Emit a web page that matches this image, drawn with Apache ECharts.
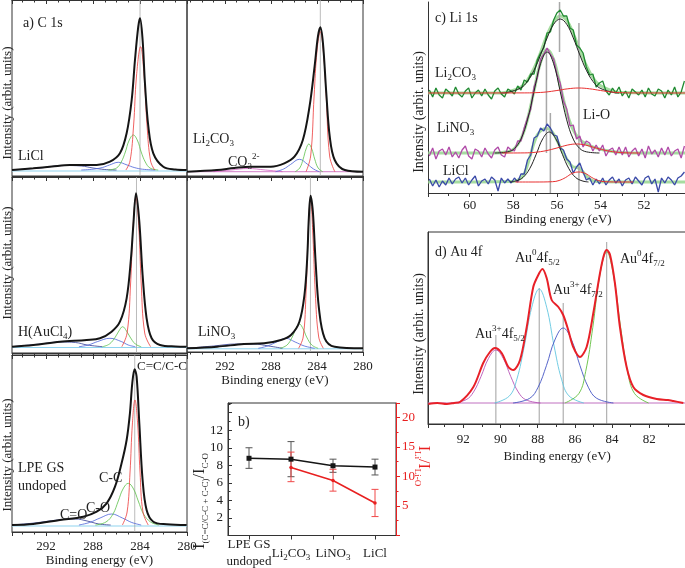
<!DOCTYPE html>
<html><head><meta charset="utf-8">
<script src="https://cdn.jsdelivr.net/npm/echarts@6/dist/echarts.min.js"></script>
<style>html,body{margin:0;padding:0;background:#fff}#c{width:685px;height:568px}</style>
</head><body><div id="c"></div>
<script>
// ---------- Panel a: C 1s spectra (binding energy eV, intensity arb.) ----------
const p1Env=[[294.9,6],[293.09,7.7],[291.5,9.5],[289.97,11],[288.8,11],[287.69,11],[286.56,14.3],[285.71,22.7],[285.14,42.7],[284.71,76],[284.43,116],[284.15,149.3],[284.0,157.7],[283.78,136],[283.58,92.7],[283.29,49.3],[282.87,22.7],[282.02,9.3],[281,6.5],[280.03,6]];
const p1Red=[[285.2,6],[284.85,15],[284.55,50],[284.3,100],[283.95,129.3],[283.65,100],[283.4,50],[283.1,15],[282.75,6]];
const p1Green=[[286.7,6],[286.0,8],[285.6,14],[285.25,24],[284.95,35],[284.57,41],[284.2,35],[283.9,24],[283.55,14],[283.15,8],[282.45,6]];
const p1Blue=[[289,6],[288,6.8],[287.2,8.5],[286.6,11],[285.85,13.7],[285.1,11],[284.5,8.5],[283.8,6.8],[282.7,6]];
const p1Navy=[[294.9,6],[292.5,8],[290.5,10.5],[289,10],[288,8],[287,6.5],[286,6]];
const p1Base=[[294.9,5],[280,5]];

const p2Env=[[295.3,4.3],[292.69,6],[291.2,8],[289.77,9.3],[288.01,9.3],[286.84,12.7],[285.96,19.3],[285.23,36],[284.65,69.3],[284.21,109.3],[283.92,139.3],[283.71,148.7],[283.48,132.7],[283.19,82.7],[282.89,39.3],[282.46,16],[281.58,6],[280,4.3]];
const p2Red=[[284.95,4.3],[284.55,20],[284.25,80],[284.0,125],[283.71,144.3],[283.45,125],[283.2,80],[282.9,20],[282.45,4.3]];
const p2Green=[[285.9,4.3],[285.5,8],[285.2,17],[284.95,27],[284.71,32],[284.45,27],[284.2,17],[283.9,8],[283.5,4.3]];
const p2Blue=[[287.6,4.3],[286.9,7],[286.3,11.5],[285.53,16.7],[284.8,11.5],[284.3,7],[283.8,4.3]];
const p2Navy=[[293,4.3],[291.5,6],[290,7.5],[288.5,6],[287,4.3]];
const p2Base=[[295.3,4.3],[280,4.3]];

const p3Env=[[294.9,6.3],[293.09,8],[290.82,11.3],[288.55,13],[287.41,14.7],[286.42,21.3],[285.71,31.3],[285.14,54.7],[284.77,94.7],[284.57,128],[284.34,159.7],[284.06,131.3],[283.78,78],[283.44,34.7],[283.01,14.7],[282.3,8],[281,6.5],[280.03,6.3]];
const p3Red=[[285.55,6.3],[285.1,20],[284.8,70],[284.6,125],[284.34,156.3],[284.1,125],[283.9,70],[283.6,20],[283.1,6.3]];
const p3Green=[[287.2,6.3],[286.6,9],[286.1,16],[285.8,22],[285.48,26.3],[285.15,22],[284.85,16],[284.4,9],[283.9,6.3]];
const p3Blue=[[289.2,6.3],[288.4,8],[287.6,11.5],[286.56,14.7],[285.6,11.5],[285,8],[284.4,6.3]];
const p3Navy=[[294.9,6.3],[292.5,9],[290.8,11],[289.5,10.5],[288.5,8],[287.2,6.3]];
const p3Base=[[294.9,5.5],[280,5.5]];

const p4Env=[[295.3,3.7],[292.69,5.3],[290.35,8],[288.6,8.7],[287.13,12],[286.26,17],[285.53,30.3],[285.09,57],[284.85,93.7],[284.71,133.7],[284.56,156.3],[284.36,140.3],[284.12,90.3],[283.83,43.7],[283.33,13.7],[282.46,5.3],[280,3.7]];
const p4Red=[[285.6,3.7],[285.2,15],[284.95,60],[284.78,115],[284.56,153.7],[284.35,115],[284.15,60],[283.85,15],[283.45,3.7]];
const p4Green=[[287.2,3.7],[286.6,7],[286.15,15],[285.85,23],[285.53,28],[285.2,23],[284.9,15],[284.45,7],[283.9,3.7]];
const p4Blue=[[289.1,3.7],[288.3,6],[287.5,10],[286.7,13.7],[285.9,10],[285.1,6],[284.2,3.7]];
const p4Navy=[[295.3,3.7],[293,6],[291,8],[289.5,8],[288.2,6],[287,3.7]];
const p4Base=[[295.3,3.2],[280,3.2]];

const p5Env=[[294.9,7],[293.09,8],[290.82,12],[288.83,15.3],[287.69,20.3],[286.84,28.7],[286.13,45.3],[285.57,68.7],[285.14,92],[284.86,118.7],[284.66,148.7],[284.46,162.7],[284.29,155.3],[284.06,108.7],[283.78,52],[283.44,22],[282.87,10.3],[281.73,7.7],[280.03,7]];
const p5Red=[[285.5,7],[285.1,20],[284.85,60],[284.65,108],[284.43,132],[284.2,108],[284.0,60],[283.75,20],[283.3,7]];
const p5Green=[[287.8,7],[286.9,10],[286.3,18],[285.85,31],[285.45,43],[285.0,48.7],[284.55,43],[284.15,31],[283.7,18],[283.1,10],[282.4,7]];
const p5Blue=[[289.2,7],[288.3,9.5],[287.4,14],[286.42,18],[285.5,14],[284.7,9.5],[283.9,7]];
const p5Navy=[[294.9,7],[293,9],[291,12],[289.5,13],[288.5,11],[287.5,8],[286.5,7]];
const p5Base=[[294.9,6],[280,6]];

const aPeakLines=[284.0,283.71,284.3,284.57,284.45];
const aHeights=[176,176,176,175,177];
const aMax=[294.9,295.3,294.9,295.3,294.9];

// ---------- Panel b ----------
const bCats=['LPE GS\nundoped','Li2CO3','LiNO3','LiCl'];
const bBlack=[8.8,8.7,7.95,7.8];
const bBlackLo=[7.65,6.7,7.2,6.9];
const bBlackHi=[10.0,10.7,8.7,8.7];
const bRed=[null,11.5,9.3,5.5];
const bRedLo=[null,9.1,7.5,3.2];
const bRedHi=[null,14.1,11.2,7.8];

// ---------- Panel c: Li 1s ----------
const liE=[61.85,61.70,61.55,61.40,61.25,61.10,60.95,60.80,60.65,60.50,
60.35,60.20,60.05,59.90,59.75,59.60,59.45,59.30,59.15,59.00,
58.85,58.70,58.55,58.40,58.25,58.10,57.95,57.80,57.65,57.50,
57.35,57.20,57.05,56.90,56.75,56.60,56.45,56.30,56.15,56.00,
55.85,55.70,55.55,55.40,55.25,55.10,54.95,54.80,54.65,54.50,
54.35,54.20,54.05,53.90,53.75,53.60,53.45,53.30,53.15,53.00,
52.85,52.70,52.55,52.40,52.25,52.10,51.95,51.80,51.65,51.50,
51.35,51.20,51.05,50.90,50.75,50.60,50.45,50.30,50.15];
const liCO3Data=[103,96,105,98,95,104,101,97,106,99,96,102,105,95,100,103,97,104,98,94,102,105,99,96,104,102,99,107,103,113,111,119,119,133,140,145,160,161,173,180,183,177,177,165,163,148,145,140,126,118,119,106,110,112,102,98,105,100,106,97,102,95,104,101,98,103,96,105,99,97,104,102,95,103,98,106,96,101,112];
const liNO3Data=[37,45,34,42,44,38,46,36,41,35,43,47,37,34,44,42,36,45,39,35,43,46,38,36,46,43,42,52,52,65,75,84,106,115,134,139,145,139,134,119,110,92,84,67,68,54,57,46,52,50,42,48,42,48,37,43,45,38,46,38,46,36,42,45,37,44,35,47,39,43,36,45,38,46,37,42,44,35,47];
const liClData=[14,7,13,6,12,8,15,9,14,16,10,15,8,13,17,7,12,14,9,16,13,2,15,10,14,10,15,11,19,19,33,38,55,57,65,62,69,65,58,57,45,43,34,31,20,26,30,21,13,15,8,14,9,15,8,13,16,10,14,7,13,15,9,16,12,8,15,17,9,14,1,15,10,16,13,8,15,17,21];
const liCO3Fit=[[58.55,100],[58.25,100.7],[57.65,105.2],[57.35,111.7],[57.05,122.8],[56.75,138.1],[56.45,155.1],[56.15,168.7],[55.85,174],[55.55,168.7],[55.25,155.1],[54.95,138.1],[54.65,122.8],[54.35,111.7],[54.05,105.2],[53.45,100.7],[53.15,100]];
const liCO3LiO=[[61.9,100],[57.5,100.1],[57,100.3],[56.5,101],[56,102.5],[55.5,104.2],[55,105],[54.5,104.2],[54,102.5],[53.5,101],[53,100.3],[52.5,100.1],[50.1,100]];
const liCO3Sum=[[61.9,100],[58.55,100.1],[58.25,101],[57.65,106],[57.35,113],[57.05,124.5],[56.75,140.5],[56.45,158],[56.15,171],[55.85,177],[55.55,172.5],[55.25,159.5],[54.95,143],[54.65,127.5],[54.35,115.5],[54.05,108],[53.45,102],[53.15,100.5],[50.1,100]];
const liNO3Fit=[[58.85,40],[58.25,41.2],[57.95,44.5],[57.65,53.9],[57.35,73.1],[57.05,101.6],[56.75,129.3],[56.45,141],[56.15,129.3],[55.85,101.6],[55.55,73.1],[55.25,53.9],[54.95,44.5],[54.65,41.2],[54.05,40]];
const liNO3LiO=[[58.5,40],[57.5,40.1],[57,40.7],[56.5,42.3],[56,45.0],[55.5,48.0],[55.1,49],[54.7,48.0],[54.2,45.0],[53.7,42.3],[53.2,40.7],[52.7,40.1],[52.2,40]];
const liNO3Sum=[[61.9,40],[58.85,40],[58.25,41.2],[57.95,44.5],[57.65,54],[57.35,73.4],[57.05,102.3],[56.75,130.7],[56.45,143.5],[56.15,133.4],[55.85,107.7],[55.55,80.9],[55.25,62.8],[54.95,53.4],[54.65,49],[54.35,46.1],[54.05,44.1],[53.75,42.5],[53.45,41.4],[53.15,40.7],[52.55,40.1],[50.1,40]];
const liClFit=[[58.15,11],[57.85,12.2],[57.55,15.7],[57.25,24.3],[56.95,38.7],[56.65,54.2],[56.35,61],[56.05,54.2],[55.75,38.7],[55.45,24.3],[55.15,15.7],[54.85,12.2],[54.55,11]];
const liClLiO=[[57.9,11],[57,11],[56.2,11.3],[55.9,12.5],[55.6,15.5],[55.3,19.6],[55.0,21],[54.7,19.6],[54.4,15.5],[54.1,12.5],[53.8,11.3],[53,11],[52.5,11]];
const liClSum=[[61.9,11],[58.0,11.5],[57.65,15],[57.5,19],[57.35,28],[57.2,39],[57.05,50],[56.9,58],[56.75,62],[56.6,64],[56.45,64.5],[56.3,63],[56.15,59],[56.0,53],[55.85,46],[55.7,40],[55.55,34],[55.4,29],[55.25,26],[55.1,25.5],[54.95,24.5],[54.8,21],[54.65,17],[54.5,14],[54.35,12.3],[54.0,11.2],[50.1,11]];
const liLines=[[55.88,141,191],[56.48,40,143],[56.3,0,80],[54.99,0,170]];

// ---------- Panel d: Au 4f ----------
const auEnv=[[93.88,20],[93.4,21],[92.89,20],[92.5,21],[92.18,22],[91.46,37],[90.93,61],[90.57,72],[90.30,76],[89.94,71],[89.58,57],[89.31,54],[88.95,64],[88.59,97],[88.24,137],[87.97,149],[87.75,155],[87.52,146],[87.25,124],[86.89,117],[86.63,109],[86.36,94],[86.09,77],[85.73,67],[85.37,77],[85.01,111],[84.65,151],[84.44,169],[84.29,174],[84.11,169],[83.85,141],[83.58,97],[83.22,57],[82.86,37],[82.32,29],[81.60,25],[81.0,24],[80.71,23],[80.17,21]];
const au3p52=[[92.65,21],[91.85,24.3],[91.45,32.1],[91.05,47.5],[90.65,65.5],[90.25,74],[89.85,65.5],[89.45,47.5],[89.05,32.1],[88.65,24.3],[87.85,21]];
const au0_52=[[90.32,21],[89.52,28.1],[89.12,44.9],[88.72,78],[88.32,116.8],[87.92,135],[87.52,116.8],[87.12,78],[86.72,44.9],[86.32,28.1],[85.52,21]];
const au3p72=[[89.33,21],[88.43,25.7],[87.98,36.8],[87.53,58.5],[87.08,84],[86.63,96],[86.18,84],[85.73,58.5],[85.28,36.8],[84.83,25.7],[83.93,21]];
const au0_72=[[86.54,21],[85.79,30.4],[85.42,52.7],[85.04,96.5],[84.67,147.8],[84.29,172],[83.92,147.8],[83.54,96.5],[83.17,52.7],[82.79,30.4],[82.04,21]];
const auBase=[[93.9,21],[80.0,21]];
const auLines=[[90.25,89],[87.92,136],[86.63,121],[84.29,182]];

// ---------------------------------------------------------------
const F='Liberation Serif';
const chart=echarts.init(document.getElementById('c'),null,{renderer:'canvas'});

const gridsPos=[
 {left:12,top:0,width:175,height:176},
 {left:187,top:0,width:176,height:176},
 {left:12,top:177,width:175,height:176},
 {left:187,top:177,width:176,height:175},
 {left:12,top:355,width:175,height:177},
 {left:228,top:403,width:168,height:132.5},
 {left:428.3,top:2,width:259.4,height:191},
 {left:428,top:232,width:258.5,height:192}
];
const grid=gridsPos.map((g,i)=>Object.assign({containLabel:false,outerBoundsMode:'none',show:i!==6,borderColor:'#333',borderWidth:1,backgroundColor:'transparent'},g));

const tickStyle={color:'#333',width:1};
const xAxis=[];
for(let i=0;i<5;i++){
  const lab=(i===3||i===4);
  xAxis.push({type:'value',gridIndex:i,position:'bottom',inverse:true,min:280,max:aMax[i],interval:4,
    axisLine:{show:true,onZero:false,lineStyle:tickStyle},axisTick:{show:true,inside:false,length:4,lineStyle:tickStyle},
    minorTick:{show:true,splitNumber:4,length:2.5,lineStyle:tickStyle},splitLine:{show:false},
    axisLabel:{show:lab,fontFamily:F,fontSize:13,color:'#222',margin:8,showMaxLabel:false,showMinLabel:true},
    name:lab?'Binding energy (eV)':'',nameLocation:'middle',nameGap:(i===3?25:27),
    nameTextStyle:{fontFamily:F,fontSize:13,color:'#222',verticalAlign:'middle'}});
}
for(let i=0;i<5;i++){
  xAxis.push({type:'value',gridIndex:i,position:'top',inverse:true,min:280,max:aMax[i],interval:4,
    axisLine:{show:true,onZero:false,lineStyle:tickStyle},axisTick:{show:true,inside:true,length:4,lineStyle:tickStyle},
    minorTick:{show:true,splitNumber:4,length:2.5,lineStyle:tickStyle},splitLine:{show:false},axisLabel:{show:false}});
}
const richB={n:{fontFamily:F,fontSize:13,color:'#222',lineHeight:17,verticalAlign:'middle'},s:{fontFamily:F,fontSize:9,color:'#222',verticalAlign:'bottom'}};
xAxis.push({type:'category',gridIndex:5,data:bCats,boundaryGap:true,
  axisLine:{show:true,lineStyle:tickStyle},axisTick:{show:true,alignWithLabel:true,length:4,lineStyle:tickStyle},
  axisLabel:{fontFamily:F,fontSize:13,color:'#222',margin:18,verticalAlign:'middle',interval:0,rich:richB,
    formatter:v=>({'LPE GS\nundoped':'{n|LPE GS}\n{n|undoped}','Li2CO3':'{n|Li}{s|2}{n|CO}{s|3}','LiNO3':'{n|LiNO}{s|3}','LiCl':'{n|LiCl}'})[v]}});
xAxis.push({type:'value',gridIndex:6,inverse:true,min:50,max:61.9,interval:2,
  axisLine:{show:true,onZero:false,lineStyle:tickStyle},axisTick:{show:true,length:4,lineStyle:tickStyle},
  minorTick:{show:true,splitNumber:2,length:3,lineStyle:tickStyle},splitLine:{show:false},
  axisLabel:{fontFamily:F,fontSize:13,color:'#222',margin:6.5,showMinLabel:false,showMaxLabel:false},
  name:'Binding energy (eV)',nameLocation:'middle',nameGap:27,nameTextStyle:{fontFamily:F,fontSize:13,color:'#222',verticalAlign:'middle'}});
xAxis.push({type:'value',gridIndex:7,inverse:true,min:80,max:93.9,interval:2,
  axisLine:{show:true,onZero:false,lineStyle:tickStyle},axisTick:{show:true,length:4,lineStyle:tickStyle},
  minorTick:{show:true,splitNumber:2,length:3,lineStyle:tickStyle},splitLine:{show:false},
  axisLabel:{fontFamily:F,fontSize:13,color:'#222',margin:9,showMinLabel:false,showMaxLabel:false},
  name:'Binding energy (eV)',nameLocation:'middle',nameGap:33,nameTextStyle:{fontFamily:F,fontSize:13,color:'#222',verticalAlign:'middle'}});

const yAxis=[];
for(let i=0;i<5;i++) yAxis.push({type:'value',gridIndex:i,min:0,max:aHeights[i],show:false});
yAxis.push({type:'value',gridIndex:5,min:0,max:15.1,interval:2,
  axisLine:{show:true,lineStyle:tickStyle},axisTick:{show:true,inside:true,length:4,lineStyle:tickStyle},
  minorTick:{show:true,splitNumber:2,length:2.5,lineStyle:tickStyle},splitLine:{show:false},
  axisLabel:{fontFamily:F,fontSize:13,color:'#222',margin:5,showMaxLabel:false,formatter:v=>(v===0||v>=14)?'':String(v)}});
yAxis.push({type:'value',gridIndex:5,position:'right',min:0,max:22.4,interval:5,
  axisLine:{show:true,lineStyle:{color:'#e82020',width:1}},axisTick:{show:true,inside:false,length:4,lineStyle:{color:'#e82020'}},
  minorTick:{show:true,splitNumber:2,length:2.5,lineStyle:{color:'#e82020'}},splitLine:{show:false},
  axisLabel:{fontFamily:F,fontSize:13,color:'#e82020',margin:6,showMaxLabel:false,formatter:v=>(v===0||v>21)?'':String(v)}});
yAxis.push({type:'value',gridIndex:6,min:0,max:191,axisLine:{show:true,lineStyle:tickStyle},axisTick:{show:false},axisLabel:{show:false},splitLine:{show:false}});
yAxis.push({type:'value',gridIndex:7,min:0,max:192,axisLine:{show:true,lineStyle:tickStyle},axisTick:{show:false},axisLabel:{show:false},splitLine:{show:false}});

function L(data,xi,yi,color,width,smooth,z){
  return {type:'line',xAxisIndex:xi,yAxisIndex:yi,data:data,smooth:smooth,showSymbol:false,symbol:'none',
    lineStyle:{color:color,width:width},itemStyle:{color:color},silent:true,z:z||2,clip:true};
}
const series=[];
const aSets=[
 [p1Base,p1Navy,p1Blue,p1Green,p1Red,p1Env],
 [p2Base,p2Navy,p2Blue,p2Green,p2Red,p2Env],
 [p3Base,p3Navy,p3Blue,p3Green,p3Red,p3Env],
 [p4Base,p4Navy,p4Blue,p4Green,p4Red,p4Env],
 [p5Base,p5Navy,p5Blue,p5Green,p5Red,p5Env]
];
aSets.forEach((s,i)=>{
  const baseCol=(i===1)?'#d27fc8':'#8fd3ee';
  series.push(L(s[0],i,i,baseCol,1,false,1));
  series.push(L(s[1],i,i,(i===1)?'#d060c0':'#303a90',0.8,0.4,2));
  series.push(L(s[2],i,i,'#4a62d8',0.8,0.4,2));
  series.push(L(s[3],i,i,'#5cc04a',0.8,0.4,2));
  series.push(L([[aPeakLines[i],0],[aPeakLines[i],aHeights[i]]],i,i,'#aaaaaa',0.8,false,1));
  series.push(L(s[4],i,i,'#ec3a3a',0.8,0.4,3));
  series.push(L(s[5],i,i,'#151515',2,0.35,4));
});

// panel b
series.push({type:'line',xAxisIndex:10,yAxisIndex:5,data:bBlack,symbol:'rect',symbolSize:5,showSymbol:true,
  lineStyle:{color:'#151515',width:1.5},itemStyle:{color:'#151515'},silent:true,z:4});
series.push({type:'line',xAxisIndex:10,yAxisIndex:6,data:bRed,symbol:'circle',symbolSize:3.5,showSymbol:true,
  lineStyle:{color:'#e82020',width:1.5},itemStyle:{color:'#e82020'},silent:true,z:4});
function errBars(lo,hi,yi,color){
  const d=[];lo.forEach((v,i)=>{if(v!==null)d.push([i,v,hi[i]]);});
  return {type:'custom',xAxisIndex:10,yAxisIndex:yi,data:d,silent:true,z:3,encode:{x:0,y:[1,2]},
    renderItem:(p,api)=>{
      const a=api.coord([api.value(0),api.value(1)]),b=api.coord([api.value(0),api.value(2)]);const w=3.5;
      const st={stroke:color,lineWidth:1};
      return {type:'group',children:[
        {type:'line',shape:{x1:a[0],y1:a[1],x2:b[0],y2:b[1]},style:st},
        {type:'line',shape:{x1:a[0]-w,y1:a[1],x2:a[0]+w,y2:a[1]},style:st},
        {type:'line',shape:{x1:b[0]-w,y1:b[1],x2:b[0]+w,y2:b[1]},style:st}]};
    }};
}
series.push(errBars(bBlackLo,bBlackHi,5,'#555'));
series.push(errBars(bRedLo,bRedHi,6,'#f04848'));

// panel c
const pair=arr=>liE.map((e,i)=>[e,arr[i]]);
series.push(L(liCO3Sum,11,7,'#a6dca0',3,0.4,1));
series.push(L(liNO3Sum,11,7,'#a6dca0',3,0.4,1));
series.push(L(liClSum,11,7,'#a6dca0',3,0.4,1));
liLines.forEach(l=>series.push(L([[l[0],l[1]],[l[0],l[2]]],11,7,'#a8a8a8',1.5,false,1)));
series.push(L(pair(liCO3Data),11,7,'#1f8a30',1.3,false,2));
series.push(L(pair(liNO3Data),11,7,'#b04aa8',1.3,false,2));
series.push(L(pair(liClData),11,7,'#3a4aa8',1.3,false,2));
series.push(L(liCO3Fit,11,7,'#222',1,0.4,3));
series.push(L(liNO3Fit,11,7,'#222',1,0.4,3));
series.push(L(liClFit,11,7,'#222',1,0.4,3));
series.push(L(liCO3LiO,11,7,'#e83030',1,0.4,3));
series.push(L(liNO3LiO,11,7,'#e83030',1,0.4,3));
series.push(L(liClLiO,11,7,'#e83030',1,0.4,3));

// panel d
series.push(L(auBase,12,8,'#c070c0',1,false,1));
auLines.forEach(l=>series.push(L([[l[0],0],[l[0],l[1]]],12,8,'#777',0.7,false,1)));
series.push(L(au3p52,12,8,'#b855b8',0.9,0.4,2));
series.push(L(au0_52,12,8,'#62c6e0',0.9,0.4,2));
series.push(L(au3p72,12,8,'#4455c4',0.9,0.4,2));
series.push(L(au0_72,12,8,'#62c040',0.9,0.4,2));
series.push(L(auEnv,12,8,'#e82028',2,0.3,4));

// ---------- text ----------
function R(size,color){
  return {n:{fontFamily:F,fontSize:size,fill:color,lineHeight:size+5,verticalAlign:'middle'},
    s:{fontFamily:F,fontSize:Math.round(size*0.66),fill:color,verticalAlign:'bottom'},
    u:{fontFamily:F,fontSize:Math.round(size*0.66),fill:color,verticalAlign:'top'},
    b:{fontFamily:F,fontSize:size+2,fill:color,lineHeight:size+7,verticalAlign:'middle'}};
}
function T(x,y,text,o){
  o=o||{};const size=o.size||14,color=o.color||'#222';
  return {type:'text',x:x,y:y,rotation:o.rot||0,z:100,silent:true,
    style:{text:text,fontFamily:F,fontSize:size,fill:color,align:o.align||'left',verticalAlign:'middle',rich:R(size,color)}};
}
const graphic=[
  T(23,23,'{n|a) C 1s}'),
  T(18,156,'{n|LiCl}'),
  T(193,139,'{n|Li}{s|2}{n|CO}{s|3}'),
  T(228,162,'{n|CO}{s|3}{u|2-}'),
  T(18,332,'{n|H(AuCl}{s|4}{n|)}'),
  T(198,332,'{n|LiNO}{s|3}'),
  T(18,468,'{n|LPE GS}'),
  T(18,486,'{n|undoped}'),
  T(137,367,'{n|C=C/C-C}',{size:13}),
  T(99,478,'{n|C-C}'),
  T(86,508,'{n|C-O}'),
  T(60,515,'{n|C=O}'),
  T(238,422,'{n|b)}'),
  T(435,18,'{n|c) Li 1s}'),
  T(435,73,'{n|Li}{s|2}{n|CO}{s|3}'),
  T(437,128,'{n|LiNO}{s|3}'),
  T(443,171,'{n|LiCl}'),
  T(583,115,'{n|Li-O}'),
  T(435,252,'{n|d) Au 4f}'),
  T(515,258,'{n|Au}{u|0}{n|4f}{s|5/2}'),
  T(553,290,'{n|Au}{u|3+}{n|4f}{s|7/2}'),
  T(620,259,'{n|Au}{u|0}{n|4f}{s|7/2}'),
  T(475,334,'{n|Au}{u|3+}{n|4f}{s|5/2}'),
  T(7.5,103,'{n|Intensity (arbit. units)}',{size:13,rot:Math.PI/2,align:'center'}),
  T(7.5,263,'{n|Intensity (arbit. units)}',{size:13,rot:Math.PI/2,align:'center'}),
  T(7.5,455,'{n|Intensity (arbit. units)}',{size:13,rot:Math.PI/2,align:'center'}),
  T(419,112,'{n|Intensity (arbit. units)}',{size:14,rot:Math.PI/2,align:'center'}),
  T(419,334,'{n|Intensity (arbit. units)}',{size:14,rot:Math.PI/2,align:'center'}),
  T(200,501,'{b|I}{s|(C=C/C-C + C-C)}{b|/I}{s|C-O}',{size:14,rot:Math.PI/2,align:'center'}),
  T(423,466,'{b|I}{s|Li}{b|/I}{s|Li-O}',{size:14,rot:-Math.PI/2,align:'center',color:'#e82020'})
];

chart.setOption({animation:false,backgroundColor:'#fff',grid:grid,xAxis:xAxis,yAxis:yAxis,series:series,graphic:graphic});
</script></body></html>
